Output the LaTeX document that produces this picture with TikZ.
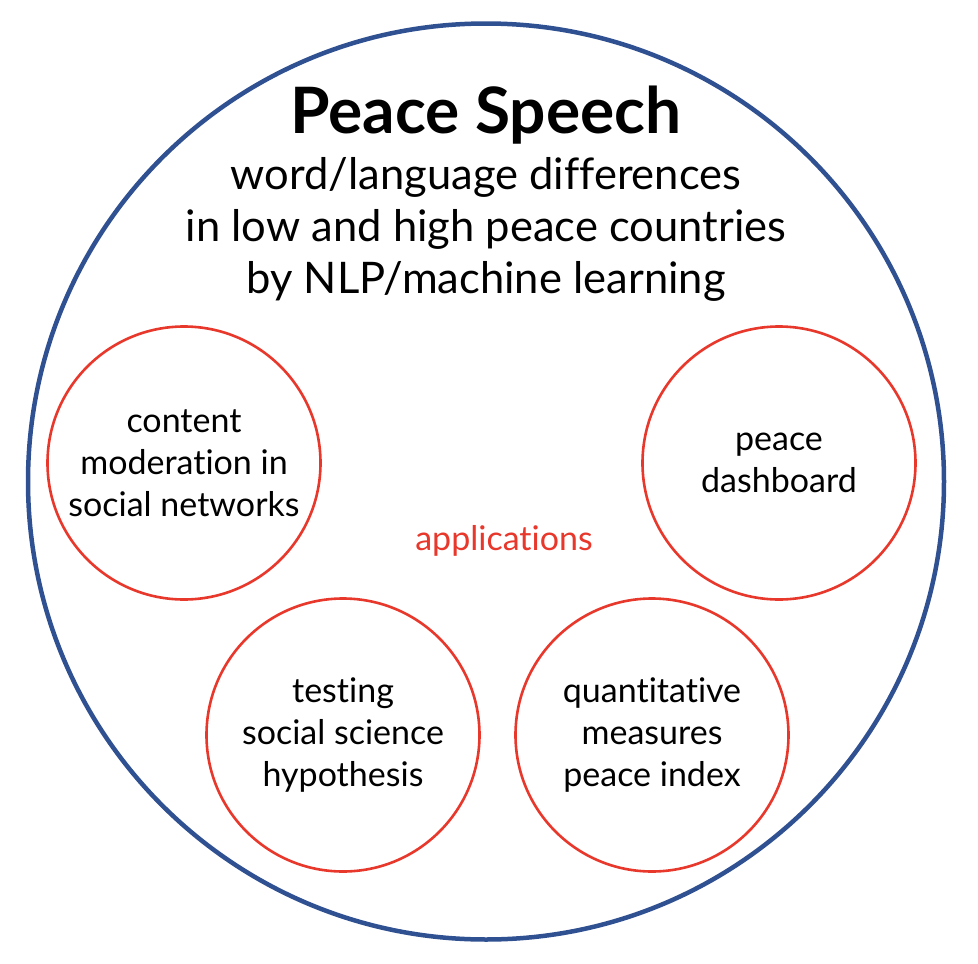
\documentclass[tikz,border=0pt]{standalone}
\usepackage{fontspec}
\setmainfont{Lato}[Ligatures=NoCommon]
\definecolor{bigblue}{HTML}{2F5091}
\definecolor{appred}{HTML}{E8372B}
\begin{document}
\begin{tikzpicture}[x=1pt,y=-1pt,
  appcircle/.style={circle,draw=appred,line width=2.6pt,minimum size=273pt,inner sep=0pt,align=center,
    font=\fontsize{34}{42}\selectfont},
  bigcircle/.style={circle,draw=bigblue,line width=4.5pt,minimum size=916pt,inner sep=0pt}]
\useasboundingbox (0,0) rectangle (978,964);
\node[bigcircle] (outer) at (486,481.5) {};
\node[font=\fontsize{64}{64}\selectfont\bfseries,anchor=base] (title) at (486,133) {Peace Speech};
\node[font=\fontsize{43.5}{52}\selectfont,align=center,anchor=base] (sub) at (486,293) {word/language differences\\in low and high peace countries\\by NLP/machine learning};
\node[appcircle] (cm) at (184,463) {content\\moderation in\\social networks};
\node[appcircle] (pd) at (779,463) {peace\\dashboard};
\node[appcircle] (ts) at (343,735) {testing\\social science\\hypothesis};
\node[appcircle] (qm) at (652,735) {quantitative\\measures\\peace index};
\node[text=appred,font=\fontsize{34}{40}\selectfont,anchor=base] (apps) at (504,550) {applications};
\end{tikzpicture}
\end{document}
